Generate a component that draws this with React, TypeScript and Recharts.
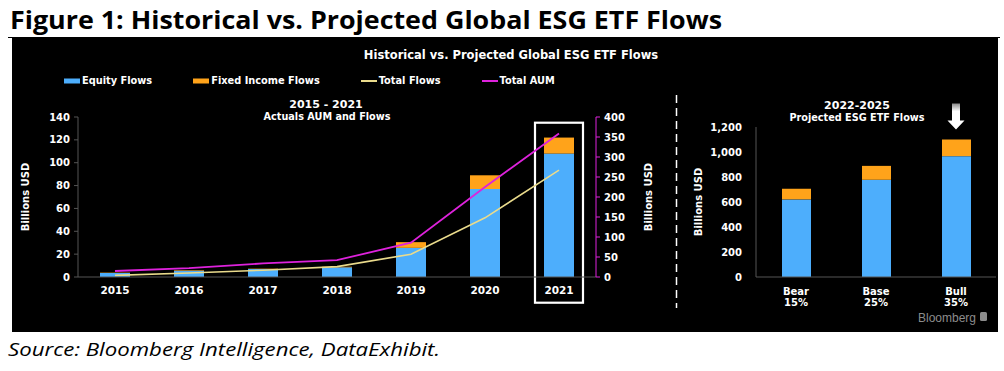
import React from 'react';
import {
  ComposedChart,
  BarChart,
  Bar,
  Line,
  XAxis,
  YAxis,
  ReferenceArea,
  ReferenceDot,
  Legend,
} from 'recharts';

// ---------- data ----------
const years = ['2015', '2016', '2017', '2018', '2019', '2020', '2021'];
const equityFlows = [3.5, 5.5, 7, 8.5, 25.5, 77, 108];
const fixedIncomeFlows = [0.3, 0.5, 0.3, 0.5, 5, 12, 14];
const totalFlows = [4, 10, 17, 26, 57, 148, 267];
const totalAUM = [15, 22, 34, 42, 86, 225, 359];
const leftTicks = [0, 20, 40, 60, 80, 100, 120, 140];
const rightTicks = [0, 50, 100, 150, 200, 250, 300, 350, 400];

const scenarios = ['Bear', 'Base', 'Bull'];
const scenarioProb = ['15%', '25%', '35%'];
const projEquity = [621, 778, 967];
const projFixedIncome = [85, 111, 133];
const projTicks = [0, 200, 400, 600, 800, 1000, 1200];

const histData = years.map((y, i) => ({
  year: y,
  equity: equityFlows[i],
  fixedIncome: fixedIncomeFlows[i],
  totalFlows: totalFlows[i],
  totalAUM: totalAUM[i],
}));
const projData = scenarios.map((s, i) => ({
  scenario: s,
  equity: projEquity[i],
  fixedIncome: projFixedIncome[i],
}));

// ---------- style ----------
const BLUE = '#4DAEFC';
const ORANGE = '#FFA31A';
const YELLOW = '#EADB8C';
const MAGENTA = '#DE22DC';
const AXIS = '#555555';
const FONT = '"DejaVu Sans", Verdana, sans-serif';
const legendOrder = ['equity', 'fixedIncome', 'totalFlows', 'totalAUM'];

const tickStyle = { fill: '#ffffff', fontSize: 10, fontWeight: 700, fontFamily: FONT };

const renderLegend = (props: any) => {
  const items = [...(props.payload || [])].sort(
    (a: any, b: any) => legendOrder.indexOf(a.dataKey) - legendOrder.indexOf(b.dataKey)
  );
  return (
    <div style={{ display: 'flex', gap: 41, alignItems: 'center' }}>
      {items.map((e: any) => (
        <div key={e.dataKey} style={{ display: 'flex', alignItems: 'center' }}>
          <svg width={16} height={8} style={{ display: 'block' }}>
            {e.type === 'rect' ? (
              <rect x={0} y={1.5} width={16} height={5} fill={e.color} />
            ) : (
              <line x1={0} x2={16} y1={4} y2={4} stroke={e.color} strokeWidth={2} />
            )}
          </svg>
          <span
            style={{
              marginLeft: 2,
              color: '#fff',
              fontSize: 9.8,
              fontWeight: 700,
              fontFamily: FONT,
              whiteSpace: 'nowrap',
            }}
          >
            {e.value}
          </span>
        </div>
      ))}
    </div>
  );
};

const HighlightBox = (props: any) => {
  const { x, y, width, height } = props;
  const w = 48;
  return (
    <rect
      x={x + width / 2 - w / 2}
      y={y}
      width={w}
      height={height}
      fill="none"
      stroke="#ffffff"
      strokeWidth={2.2}
    />
  );
};

const DownArrow = (props: any) => {
  const { cx, cy } = props;
  const top = cy - 26;
  const headTop = cy - 9;
  return (
    <g>
      <defs>
        <linearGradient id="arrowGrad" x1="0" y1="0" x2="0" y2="1">
          <stop offset="0" stopColor="#8a8a8a" />
          <stop offset="0.3" stopColor="#ffffff" />
          <stop offset="1" stopColor="#ffffff" />
        </linearGradient>
      </defs>
      <polygon
        points={`${cx - 4},${top} ${cx + 4},${top} ${cx + 4},${headTop} ${cx + 8.5},${headTop} ${cx},${cy} ${cx - 8.5},${headTop} ${cx - 4},${headTop}`}
        fill="url(#arrowGrad)"
      />
    </g>
  );
};

const ScenarioTick = (props: any) => {
  const { x, y, payload } = props;
  const i = scenarios.indexOf(payload.value);
  return (
    <text x={x} y={y} textAnchor="middle" fill="#fff" fontSize={10} fontWeight={700} fontFamily={FONT}>
      <tspan x={x} dy={10}>{payload.value}</tspan>
      <tspan x={x} dy={11}>{scenarioProb[i]}</tspan>
    </text>
  );
};

export default function App() {
  return (
    <div style={{ position: 'absolute', left: 0, top: 0, width: 1004, height: 371, background: '#fff', overflow: 'hidden' }}>
      <svg width={1004} height={371} style={{ position: 'absolute', left: 0, top: 0 }}>
        <text
          x={10}
          y={29}
          fontFamily='"Open Sans", sans-serif'
          fontWeight={700}
          fontSize={25}
          fill="#000"
          textLength={712}
          lengthAdjust="spacingAndGlyphs"
        >
          Figure 1: Historical vs. Projected Global ESG ETF Flows
        </text>
        <line x1={8} x2={1000} y1={37.5} y2={37.5} stroke="#000" strokeWidth={1} />
        <rect x={12} y={38} width={986} height={294} fill="#000" />
        <text x={511} y={59} textAnchor="middle" fill="#fff" fontFamily={FONT} fontWeight={700} fontSize={11.5}>
          Historical vs. Projected Global ESG ETF Flows
        </text>
        <text x={326} y={108} textAnchor="middle" fill="#fff" fontFamily={FONT} fontWeight={700} fontSize={11}>
          2015 - 2021
        </text>
        <text x={327} y={120} textAnchor="middle" fill="#fff" fontFamily={FONT} fontWeight={700} fontSize={9.7}>
          Actuals AUM and Flows
        </text>
        <text x={857} y={109} textAnchor="middle" fill="#fff" fontFamily={FONT} fontWeight={700} fontSize={11}>
          2022-2025
        </text>
        <text x={857} y={121} textAnchor="middle" fill="#fff" fontFamily={FONT} fontWeight={700} fontSize={9.7}>
          Projected ESG ETF Flows
        </text>
        <line x1={676.5} x2={676.5} y1={95} y2={308} stroke="#fff" strokeWidth={1.5} strokeDasharray="8 5" />
        <text x={918} y={322} fill="#8c8c8c" fontFamily='"Liberation Sans", Arial, sans-serif' fontSize={12}>
          Bloomberg
        </text>
        <rect x={980} y={312} width={7} height={9} rx={1.5} fill="#8c8c8c" />
        <text
          x={8}
          y={356}
          fontFamily='"Open Sans", sans-serif'
          fontStyle="italic"
          fontSize={19}
          fill="#000"
          textLength={432}
          lengthAdjust="spacingAndGlyphs"
        >
          Source: Bloomberg Intelligence, DataExhibit.
        </text>
      </svg>

      <div style={{ position: 'absolute', left: 0, top: 0 }}>
        <ComposedChart
          width={680}
          height={330}
          data={histData}
          margin={{ top: 117, right: 24, bottom: 23, left: 10 }}
          barCategoryGap={0}
        >
          <XAxis
            dataKey="year"
            xAxisId={0}
            stroke={AXIS}
            tickLine={false}
            tickMargin={4}
            tick={{ ...tickStyle, fontSize: 10.5 }}
            height={30}
          />
          <YAxis
            yAxisId="left"
            domain={[0, 140]}
            ticks={leftTicks}
            interval={0}
            stroke={AXIS}
            tickSize={4}
            tickMargin={4}
            tick={tickStyle}
            width={68}
            label={{
              value: 'Billions USD',
              angle: -90,
              position: 'insideLeft',
              offset: 15,
              style: { textAnchor: 'middle', fill: '#fff', fontSize: 10, fontWeight: 700, fontFamily: FONT },
            }}
          />
          <YAxis
            yAxisId="right"
            orientation="right"
            domain={[0, 400]}
            ticks={rightTicks}
            interval={0}
            stroke={MAGENTA}
            tickSize={4}
            tickMargin={4}
            tick={tickStyle}
            width={60}
            label={{
              value: 'Billions USD',
              angle: -90,
              position: 'insideRight',
              offset: 8,
              style: { textAnchor: 'middle', fill: '#fff', fontSize: 10, fontWeight: 700, fontFamily: FONT },
            }}
          />
          <Legend
            content={renderLegend}
            layout="horizontal"
            verticalAlign="middle"
            align="center"
            wrapperStyle={{ top: 75, left: 64, width: 'auto' }}
          />
          <Bar dataKey="equity" name="Equity Flows" stackId="a" yAxisId="left" fill={BLUE} barSize={30} isAnimationActive={false} />
          <Bar dataKey="fixedIncome" name="Fixed Income Flows" stackId="a" yAxisId="left" fill={ORANGE} barSize={30} isAnimationActive={false} />
          <Line dataKey="totalFlows" name="Total Flows" yAxisId="right" type="linear" stroke={YELLOW} strokeWidth={1.6} dot={false} isAnimationActive={false} />
          <Line dataKey="totalAUM" name="Total AUM" yAxisId="right" type="linear" stroke={MAGENTA} strokeWidth={1.8} dot={false} isAnimationActive={false} />
          <ReferenceArea
            x1="2021"
            x2="2021"
            y1={-22.5}
            y2={135}
            yAxisId="left"
            ifOverflow="visible"
            shape={HighlightBox}
          />
        </ComposedChart>
      </div>

      <div style={{ position: 'absolute', left: 680, top: 0 }}>
        <BarChart
          width={324}
          height={330}
          data={projData}
          margin={{ top: 127, right: 8, bottom: 13, left: 8 }}
          barCategoryGap={0}
        >
          <XAxis dataKey="scenario" stroke={AXIS} tickLine={false} tick={<ScenarioTick />} height={40} interval={0} />
          <YAxis
            domain={[0, 1200]}
            ticks={projTicks}
            interval={0}
            stroke={AXIS}
            tickLine={false}
            tickMargin={8}
            tick={tickStyle}
            tickFormatter={(v: number) => v.toLocaleString('en-US')}
            width={68}
            label={{
              value: 'Billions USD',
              angle: -90,
              position: 'insideLeft',
              offset: 10,
              style: { textAnchor: 'middle', fill: '#fff', fontSize: 10, fontWeight: 700, fontFamily: FONT },
            }}
          />
          <Bar dataKey="equity" name="Equity Flows" stackId="p" fill={BLUE} barSize={29} isAnimationActive={false} />
          <Bar dataKey="fixedIncome" name="Fixed Income Flows" stackId="p" fill={ORANGE} barSize={29} isAnimationActive={false} />
          <ReferenceDot x="Bull" y={1180} ifOverflow="visible" shape={DownArrow} />
        </BarChart>
      </div>
    </div>
  );
}
